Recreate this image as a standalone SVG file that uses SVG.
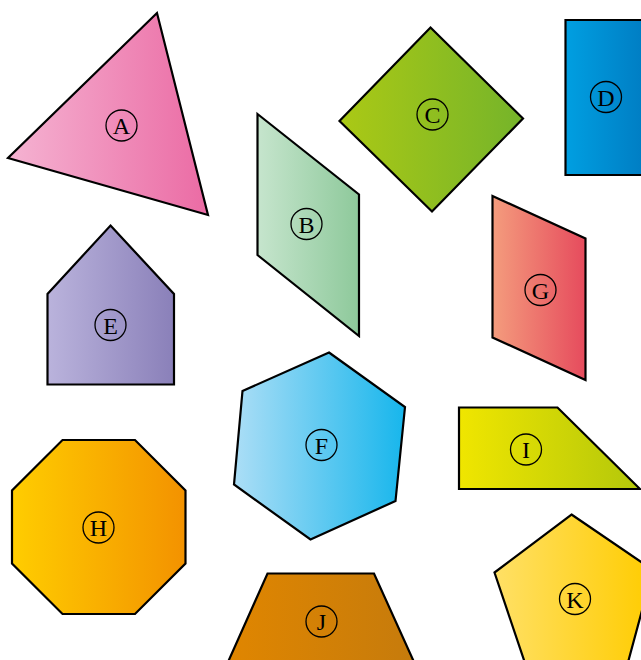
<svg xmlns="http://www.w3.org/2000/svg" width="641" height="660" viewBox="0 0 641 660">
<style>
.s{stroke:#000;stroke-width:2.2;stroke-linejoin:miter}
.c{fill:none;stroke:#000;stroke-width:1.3}
.t{font-family:"Liberation Serif","DejaVu Serif",serif;font-size:24px;fill:#000;text-anchor:middle;dominant-baseline:central}
</style>
<defs>
<linearGradient id="gA"><stop offset="0" stop-color="#f5b3d2"/><stop offset="1" stop-color="#eb6ba4"/></linearGradient>
<linearGradient id="gB"><stop offset="0" stop-color="#c6e5cd"/><stop offset="1" stop-color="#8ec99b"/></linearGradient>
<linearGradient id="gC"><stop offset="0" stop-color="#abc915"/><stop offset="1" stop-color="#75b42a"/></linearGradient>
<linearGradient id="gD"><stop offset="0" stop-color="#009fe1"/><stop offset="1" stop-color="#007dc3"/></linearGradient>
<linearGradient id="gE"><stop offset="0" stop-color="#bab3dc"/><stop offset="1" stop-color="#8a80b9"/></linearGradient>
<linearGradient id="gF"><stop offset="0" stop-color="#acdef6"/><stop offset="1" stop-color="#17b6ec"/></linearGradient>
<linearGradient id="gG"><stop offset="0" stop-color="#f49c7d"/><stop offset="1" stop-color="#e64b5d"/></linearGradient>
<linearGradient id="gH"><stop offset="0" stop-color="#ffcd00"/><stop offset="1" stop-color="#f39200"/></linearGradient>
<linearGradient id="gI"><stop offset="0" stop-color="#f0e600"/><stop offset="1" stop-color="#b3c70b"/></linearGradient>
<linearGradient id="gJ"><stop offset="0" stop-color="#e08600"/><stop offset="1" stop-color="#c67b0c"/></linearGradient>
<linearGradient id="gK"><stop offset="0" stop-color="#ffe066"/><stop offset="1" stop-color="#ffcc00"/></linearGradient>
</defs>
<g id="A"><polygon class="s" fill="url(#gA)" points="157,13 8,158 208,215"/><circle class="c" cx="121.5" cy="125.5" r="15.5"/><text class="t" x="121.5" y="126">A</text></g>
<g id="B"><polygon class="s" fill="url(#gB)" points="257.5,114 359,194.5 359,336 257.5,255"/><circle class="c" cx="306.5" cy="224" r="15.5"/><text class="t" x="306.5" y="224.5">B</text></g>
<g id="C"><polygon class="s" fill="url(#gC)" points="430.5,27.5 523,118.5 432,211.5 339.5,121"/><circle class="c" cx="432.5" cy="114.5" r="15.5"/><text class="t" x="432.5" y="115">C</text></g>
<g id="D"><polygon class="s" fill="url(#gD)" points="565.5,20 645,20 645,175 565.5,175"/><circle class="c" cx="606" cy="97" r="15.5"/><text class="t" x="606" y="97.5">D</text></g>
<g id="E"><polygon class="s" fill="url(#gE)" points="110.5,225.5 174,294 174,384.5 47.5,384.5 47.5,294"/><circle class="c" cx="110.5" cy="325" r="15.5"/><text class="t" x="110.5" y="325.5">E</text></g>
<g id="F"><polygon class="s" fill="url(#gF)" points="329,352.5 405,407 395.5,501 310.5,539.5 234,484.5 242.5,391"/><circle class="c" cx="321.5" cy="445" r="15.5"/><text class="t" x="321.5" y="445.5">F</text></g>
<g id="G"><polygon class="s" fill="url(#gG)" points="492.5,196 585.5,238.5 585.5,380 492.5,337.5"/><circle class="c" cx="540.5" cy="290" r="15.5"/><text class="t" x="540.5" y="290.5">G</text></g>
<g id="H"><polygon class="s" fill="url(#gH)" points="62.5,440 135,440 185.5,490.5 185.5,563.5 135,614 62.5,614 12,563.5 12,490.5"/><circle class="c" cx="98.5" cy="527.5" r="15.5"/><text class="t" x="98.5" y="528">H</text></g>
<g id="I"><polygon class="s" fill="url(#gI)" points="459,407.5 557.5,407.5 640,489 459,489"/><circle class="c" cx="526" cy="449.5" r="15.5"/><text class="t" x="526" y="450">I</text></g>
<g id="J"><polygon class="s" fill="url(#gJ)" points="267.5,573.5 374,573.5 414,662 228,662"/><circle class="c" cx="321.5" cy="621.5" r="15.5"/><text class="t" x="321.5" y="622">J</text></g>
<g id="K"><polygon class="s" fill="url(#gK)" points="571.5,514.5 653,570 627,666 527,669 494.5,572.5"/><circle class="c" cx="575" cy="599" r="15.5"/><text class="t" x="575" y="599.5">K</text></g>
</svg>
